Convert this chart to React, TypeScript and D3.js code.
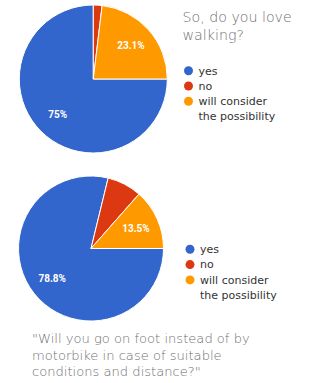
import { useEffect, useRef } from 'react';
import * as d3 from 'd3';

const categories = ['yes', 'no', 'will consider the possibility'];
const walkingValues = [75, 1.9, 23.1];
const footValues = [78.8, 7.7, 13.5];
const colors = ['#3366cc', '#dc3912', '#ff9900'];
const walkingTitle = ['So, do you love', 'walking?'];
const footTitle = [
  '"Will you go on foot instead of by',
  'motorbike in case of suitable',
  'conditions and distance?"',
];

export default function App() {
  const svgRef = useRef<SVGSVGElement>(null);

  useEffect(() => {
    if (!svgRef.current) return;
    const svg = d3.select(svgRef.current);
    svg.selectAll('*').remove();

    svg.append('rect').attr('width', 311).attr('height', 383).attr('fill', 'white');

    const pie = d3.pie<number>()
      .sort(null)
      .startAngle(Math.PI / 2)
      .endAngle(Math.PI / 2 + 2 * Math.PI);

    const drawPie = (values: number[], cx: number, cy: number, r: number, legendX: number, legendY: number) => {
      const g = svg.append('g').attr('transform', `translate(${cx},${cy})`);
      const arc = d3.arc<d3.PieArcDatum<number>>().innerRadius(0).outerRadius(r);
      const labelArc = d3.arc<d3.PieArcDatum<number>>().innerRadius(r * 0.68).outerRadius(r * 0.68);
      const arcs = pie(values);

      g.selectAll('path')
        .data(arcs)
        .enter().append('path')
        .attr('d', arc)
        .attr('fill', (_, i) => colors[i])
        .attr('stroke', 'white')
        .attr('stroke-width', 1);

      g.selectAll('text')
        .data(arcs.filter(d => d.data >= 10))
        .enter().append('text')
        .attr('transform', d => `translate(${labelArc.centroid(d)})`)
        .attr('text-anchor', 'middle')
        .attr('dy', '0.35em')
        .attr('fill', 'white')
        .style('font-family', 'Roboto, Arial, sans-serif')
        .style('font-size', '10px')
        .style('font-weight', 'bold')
        .text(d => `${d.data}%`);

      // legend
      const lg = svg.append('g').attr('transform', `translate(${legendX},${legendY})`);
      categories.forEach((c, i) => {
        const y = i * 15.3;
        lg.append('circle').attr('cx', 0).attr('cy', y).attr('r', 4.5).attr('fill', colors[i]);
        const words = c === 'will consider the possibility' ? ['will consider', 'the possibility'] : [c];
        words.forEach((w, j) => {
          lg.append('text')
            .attr('x', 10)
            .attr('y', y + j * 15.3)
            .attr('dy', '0.35em')
            .attr('fill', '#333')
            .style('font-family', '"DejaVu Sans", sans-serif')
            .style('font-size', '11px')
            .text(w);
        });
      });
    };

    drawPie(walkingValues, 93.3, 79, 74, 188.5, 70.7);
    drawPie(footValues, 91, 248.5, 72.5, 190, 249.3);

    walkingTitle.forEach((t, i) => {
      svg.append('text')
        .attr('x', 182.5)
        .attr('y', 22 + i * 17.5)
        .attr('fill', '#707070')
        .style('font-family', '"DejaVu Sans", sans-serif')
        .style('font-weight', 200)
        .style('font-size', '14.2px')
        .text(t);
    });

    footTitle.forEach((t, i) => {
      svg.append('text')
        .attr('x', 32)
        .attr('y', 343 + i * 16.5)
        .attr('fill', '#707070')
        .style('font-family', '"DejaVu Sans", sans-serif')
        .style('font-weight', 200)
        .style('font-size', '13.1px')
        .text(t);
    });
  }, []);

  return (
    <div style={{ position: 'absolute', top: 0, left: 0 }}>
      <svg ref={svgRef} width={311} height={383} style={{ display: 'block' }} />
    </div>
  );
}
